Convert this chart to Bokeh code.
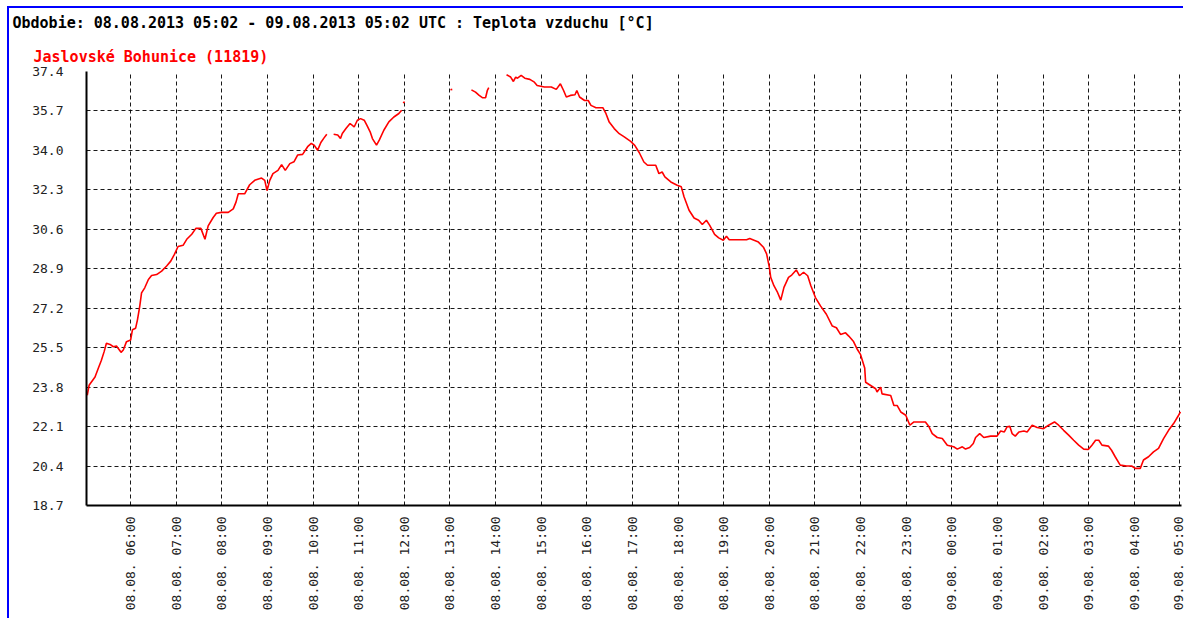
import math
from bokeh.plotting import figure
from bokeh.models import ColumnDataSource, FixedTicker, Range1d, Title
from bokeh.embed import file_html
from bokeh.resources import INLINE

NaN = float("nan")

# hours since 08.08.2013 00:00 UTC
hours = [
    5.05, 5.09, 5.22, 5.29, 5.36, 5.42, 5.47, 5.55, 5.62, 5.69, 5.79, 5.84, 5.91, 6.00,
    6.04, 6.11, 6.15, 6.20, 6.24, 6.31, 6.39, 6.46, 6.57, 6.68, 6.79, 6.88, 6.96, 7.04,
    7.15, 7.23, 7.34, 7.43, 7.54, 7.63, 7.70, 7.81, 7.88, 7.99, 8.14, 8.25, 8.31, 8.36,
    8.50, 8.61, 8.72, 8.87, 8.94, 8.99, 9.05, 9.12, 9.23, 9.31, 9.39, 9.49, 9.58, 9.66,
    9.77, 9.88, 9.96, 10.02, 10.10, 10.17, 10.24, 10.30, 10.37, 10.45, 10.54, 10.60,
    10.64, 10.72, 10.81, 10.90, 10.97, 11.04, 11.12, 11.18, 11.25, 11.30, 11.39, 11.45,
    11.55, 11.66, 11.77, 11.88, 11.94, 11.96, 11.97, 12.01, 12.50, 13.01, 13.05, 13.25,
    13.47, 13.56, 13.64, 13.71, 13.78, 13.82, 13.85, 14.05, 14.24, 14.33, 14.39, 14.44,
    14.48, 14.56, 14.64, 14.75, 14.85, 14.91, 15.07, 15.22, 15.33, 15.42, 15.49, 15.55,
    15.64, 15.74, 15.78, 15.84, 15.95, 16.03, 16.09, 16.20, 16.35, 16.42, 16.49, 16.60,
    16.71, 16.82, 16.96, 17.05, 17.15, 17.25, 17.33, 17.51, 17.58, 17.65, 17.71, 17.84,
    17.98, 18.07, 18.13, 18.24, 18.35, 18.45, 18.53, 18.62, 18.69, 18.80, 18.89, 18.99,
    19.06, 19.12, 19.28, 19.50, 19.57, 19.76, 19.87, 19.94, 20.00, 20.03, 20.10, 20.18,
    20.25, 20.32, 20.42, 20.49, 20.59, 20.66, 20.75, 20.84, 20.91, 21.01, 21.12, 21.25,
    21.38, 21.47, 21.56, 21.67, 21.74, 21.84, 21.93, 22.00, 22.09, 22.11, 22.22, 22.33,
    22.36, 22.44, 22.47, 22.66, 22.73, 22.80, 22.88, 22.99, 23.08, 23.17, 23.31, 23.42,
    23.50, 23.57, 23.68, 23.79, 23.90, 24.04, 24.12, 24.23, 24.30, 24.39, 24.47, 24.52,
    24.61, 24.70, 24.85, 24.99, 25.07, 25.15, 25.21, 25.27, 25.32, 25.39, 25.47, 25.58,
    25.65, 25.76, 25.87, 26.01, 26.12, 26.25, 26.34, 26.45, 26.56, 26.67, 26.78, 26.89,
    26.99, 27.07, 27.15, 27.22, 27.29, 27.43, 27.50, 27.58, 27.69, 27.83, 27.94, 28.02,
    28.13, 28.20, 28.31, 28.42, 28.53, 28.64, 28.75, 28.86, 28.97, 29.01,
]

temps = [
    23.45, 23.88, 24.24, 24.60, 24.96, 25.33, 25.69, 25.64, 25.54, 25.57, 25.30, 25.40, 25.76, 25.83,
    26.27, 26.34, 26.70, 27.28, 27.86, 28.08, 28.44, 28.61, 28.65, 28.80, 29.02, 29.23, 29.52, 29.86,
    29.91, 30.17, 30.39, 30.64, 30.64, 30.17, 30.75, 31.11, 31.29, 31.33, 31.33, 31.48, 31.77, 32.13,
    32.13, 32.52, 32.71, 32.81, 32.71, 32.27, 32.71, 33.00, 33.14, 33.39, 33.14, 33.43, 33.51, 33.80,
    33.83, 34.16, 34.30, 34.23, 34.01, 34.34, 34.54, 34.70, NaN, 34.70, 34.66, 34.51,
    34.73, 34.94, 35.16, 35.01, 35.30, 35.37, 35.30, 35.08, 34.80, 34.51, 34.23, 34.44,
    34.87, 35.23, 35.44, 35.59, 35.73, NaN, 36.05, 36.09, NaN, 36.61, 36.63, NaN,
    36.61, 36.51, 36.37, 36.27, 36.27, 36.59, 36.70, NaN, 37.26, 37.16, 36.97, 37.16,
    37.11, 37.23, 37.11, 37.06, 36.94, 36.80, 36.73, 36.73, 36.63, 36.87, 36.58, 36.30,
    36.37, 36.40, 36.58, 36.30, 36.15, 36.15, 35.94, 35.84, 35.84, 35.58, 35.22, 34.94,
    34.72, 34.58, 34.39, 34.22, 33.90, 33.50, 33.36, 33.36, 33.00, 33.07, 32.86, 32.64,
    32.50, 32.43, 32.00, 31.42, 31.09, 30.99, 30.81, 30.99, 30.78, 30.38, 30.23, 30.13,
    30.30, 30.15, 30.15, 30.15, 30.20, 30.05, 29.83, 29.54, 28.96, 28.53, 28.17, 27.88,
    27.55, 28.10, 28.53, 28.63, 28.85, 28.60, 28.75, 28.60, 28.17, 27.66, 27.30, 26.94,
    26.43, 26.36, 26.07, 26.14, 26.00, 25.78, 25.42, 25.20, 24.62, 24.01, 23.87, 23.73,
    23.59, 23.80, 23.51, 23.44, 23.01, 23.01, 22.73, 22.59, 22.16, 22.30, 22.30, 22.30,
    22.09, 21.80, 21.63, 21.59, 21.30, 21.23, 21.13, 21.23, 21.13, 21.20, 21.37, 21.63,
    21.80, 21.63, 21.69, 21.69, 21.91, 21.87, 22.09, 22.11, 21.80, 21.69, 21.87, 21.91,
    21.87, 22.16, 22.06, 22.01, 22.16, 22.30, 22.16, 21.94, 21.73, 21.51, 21.30, 21.13,
    21.11, 21.30, 21.51, 21.51, 21.30, 21.26, 21.08, 20.80, 20.44, 20.40, 20.40, 20.30,
    20.30, 20.66, 20.80, 21.01, 21.16, 21.58, 21.94, 22.23, 22.59, 22.73,
]

tick_hours = list(range(6, 30))
tick_labels = [
    "08.08.  06:00", "08.08.  07:00", "08.08.  08:00", "08.08.  09:00", "08.08.  10:00",
    "08.08.  11:00", "08.08.  12:00", "08.08.  13:00", "08.08.  14:00", "08.08.  15:00",
    "08.08.  16:00", "08.08.  17:00", "08.08.  18:00", "08.08.  19:00", "08.08.  20:00",
    "08.08.  21:00", "08.08.  22:00", "08.08.  23:00", "09.08.  00:00", "09.08.  01:00",
    "09.08.  02:00", "09.08.  03:00", "09.08.  04:00", "09.08.  05:00",
]
y_ticks = [18.7, 20.4, 22.1, 23.8, 25.5, 27.2, 28.9, 30.6, 32.3, 34.0, 35.7, 37.4]

title_text = "Obdobie: 08.08.2013 05:02 - 09.08.2013 05:02 UTC : Teplota vzduchu [°C]"
series_name = "Jaslovské Bohunice (11819)"

x_start = 5 + 2 / 60
x_end = 29 + 2 / 60

FONT = "DejaVu Sans Mono"

p = figure(
    width=1176, height=612, title=None,
    output_backend="svg", toolbar_location=None,
    x_range=Range1d(x_start, x_end), y_range=Range1d(18.7, 37.4),
    min_border_left=77, min_border_right=4, min_border_top=63, min_border_bottom=115,
    background_fill_color="white", border_fill_color="white",
)
p.outline_line_color = None
p.styles = {"box-shadow": "-2px -2px 0px 0px #0000ff",
            "margin-left": "9px", "margin-top": "8px"}

src = ColumnDataSource(data=dict(x=hours, y=temps))
p.line("x", "y", source=src, line_color="#ff0000", line_width=1.6)

# axes
p.xaxis.ticker = FixedTicker(ticks=tick_hours)
p.xaxis.major_label_overrides = {h: lab for h, lab in zip(tick_hours, tick_labels)}
p.xaxis.major_label_orientation = math.pi / 2
p.yaxis.ticker = FixedTicker(ticks=y_ticks)
p.yaxis.major_label_overrides = {v: f"{v:.1f}" for v in y_ticks}
for ax in (p.xaxis, p.yaxis):
    ax.axis_line_color = "black"
    ax.axis_line_width = 2
    ax.major_tick_line_color = None
    ax.minor_tick_line_color = None
    ax.major_tick_out = 0
    ax.major_tick_in = 0
    ax.major_label_text_font = FONT
    ax.major_label_text_font_size = "13px"
    ax.major_label_text_color = "#222222"
p.xaxis.major_label_standoff = 3
p.yaxis.major_label_standoff = 23

for g in (p.xgrid, p.ygrid):
    g.grid_line_color = "black"
    g.grid_line_width = 1
    g.grid_line_dash = "4 3"
    g.grid_line_alpha = 0.9

# legend line (closest to the plot), then the period title above it
p.add_layout(Title(text=series_name, align="left", offset=-53, standoff=12,
                   text_font=FONT, text_font_style="bold", text_font_size="15px",
                   text_color="#ff0000"), "above")
p.add_layout(Title(text=title_text, align="left", offset=-74, standoff=11,
                   vertical_align="top",
                   text_font=FONT, text_font_style="bold", text_font_size="15px",
                   text_color="black"), "above")

open("out.html", "w").write(file_html(p, INLINE))
